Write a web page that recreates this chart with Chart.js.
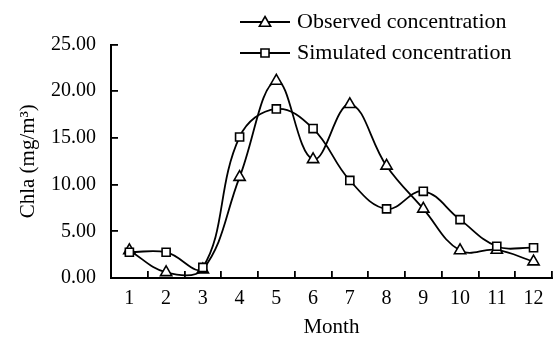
<!DOCTYPE html>
<html>
<head>
<meta charset="utf-8">
<script src="https://cdn.jsdelivr.net/npm/chart.js@4.4.0/dist/chart.umd.min.js"></script>
<style>
html,body{margin:0;padding:0;background:#fff;}
#wrap{width:560px;height:338px;}
</style>
</head>
<body>
<div id="wrap"><canvas id="c" width="560" height="338"></canvas></div>
<script>
const months = ['1','2','3','4','5','6','7','8','9','10','11','12'];
const observed = [2.95, 0.6, 0.9, 10.8, 21.1, 12.7, 18.6, 12.0, 7.4, 2.95, 3.0, 1.75];
const simulated = [2.76, 2.76, 1.13, 15.1, 18.1, 16.0, 10.45, 7.4, 9.28, 6.25, 3.4, 3.24];
const yTickValues = [0, 5, 10, 15, 20, 25];
const seriesNames = ['Observed concentration', 'Simulated concentration'];
const xTitle = 'Month';
const yTitle = 'Chla (mg/m\u00B3)';

const FONT = '"Liberation Serif", "Times New Roman", serif';

const legendPlugin = {
  id: 'customLegend',
  afterDraw(chart) {
    const ctx = chart.ctx;
    ctx.save();
    const rows = [22, 53];
    chart.data.datasets.forEach((ds, i) => {
      const y = rows[i];
      ctx.strokeStyle = '#000';
      ctx.lineWidth = 1.8;
      ctx.beginPath();
      ctx.moveTo(240, y);
      ctx.lineTo(290, y);
      ctx.stroke();
      ctx.fillStyle = '#fff';
      ctx.strokeStyle = '#000';
      ctx.lineWidth = 1.6;
      Chart.helpers.drawPoint(ctx, {pointStyle: ds.pointStyle, radius: ds.pointRadius, borderWidth: 1.6, rotation: 0}, 265, y + (ds.pointStyle === 'triangle' ? 1 : 0));
      ctx.fillStyle = '#000';
      ctx.font = '22px ' + FONT;
      ctx.textBaseline = 'middle';
      ctx.textAlign = 'left';
      ctx.fillText(ds.label, 297, y);
    });
    ctx.restore();
  }
};

new Chart(document.getElementById('c'), {
  type: 'line',
  data: {
    labels: months,
    datasets: [
      {
        label: seriesNames[0],
        data: observed,
        order: 1,
        borderColor: '#000',
        borderWidth: 1.8,
        backgroundColor: '#fff',
        pointStyle: 'triangle',
        pointRadius: 6.5,
        pointBorderWidth: 1.6,
        pointBackgroundColor: '#fff',
        pointBorderColor: '#000',
        tension: 0.4,
        fill: false,
        clip: false
      },
      {
        label: seriesNames[1],
        data: simulated,
        order: 0,
        borderColor: '#000',
        borderWidth: 1.8,
        backgroundColor: '#fff',
        pointStyle: 'rect',
        pointRadius: 5.7,
        pointBorderWidth: 1.6,
        pointBackgroundColor: '#fff',
        pointBorderColor: '#000',
        tension: 0.4,
        fill: false,
        clip: false
      }
    ]
  },
  options: {
    responsive: false,
    devicePixelRatio: 1,
    animation: false,
    layout: { padding: { top: 44.5, right: 3, left: 0, bottom: 0 } },
    plugins: {
      legend: { display: false },
      tooltip: { enabled: false }
    },
    scales: {
      x: {
        type: 'category',
        offset: true,
        grid: { display: true, offset: true, drawOnChartArea: false, drawTicks: true, tickLength: -7, color: '#000', lineWidth: 1.8 },
        border: { display: true, color: '#000', width: 2 },
        ticks: { color: '#000', font: { family: FONT, size: 20 }, padding: 16, maxRotation: 0, autoSkip: false },
        title: { display: true, text: xTitle, color: '#000', font: { family: FONT, size: 21, lineHeight: 1 }, padding: 0 },
        afterFit(s) { s.height = 60; }
      },
      y: {
        min: 0,
        max: 25,
        afterBuildTicks(s) { s.ticks = yTickValues.map(v => ({ value: v })); },
        grid: { display: true, drawOnChartArea: false, drawTicks: true, tickLength: -7, color: '#000', lineWidth: 1.8 },
        border: { display: true, color: '#000', width: 2 },
        ticks: { color: '#000', font: { family: FONT, size: 20 }, padding: 22, callback: v => Number(v).toFixed(2) },
        title: { display: true, text: yTitle, color: '#000', font: { family: FONT, size: 21, lineHeight: 1 }, padding: { top: 18, bottom: 0 } },
        afterFit(s) { s.width = 111; }
      }
    }
  },
  plugins: [legendPlugin]
});
</script>
</body>
</html>
